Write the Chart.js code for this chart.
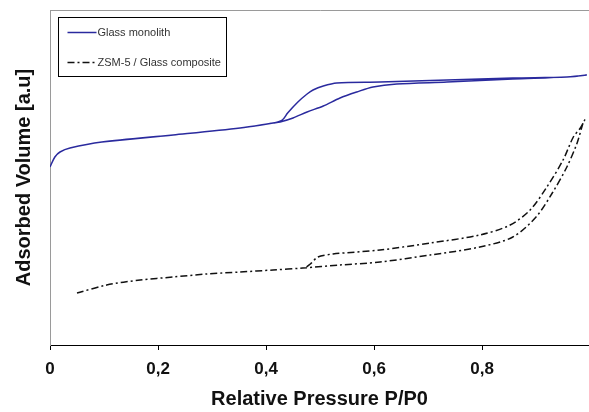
<!DOCTYPE html>
<html><head><meta charset="UTF-8">
<title>Adsorption isotherms</title>
<script src="https://cdn.jsdelivr.net/npm/chart.js"></script>
<style>
body{margin:0;background:#fff;overflow:hidden}
canvas{display:block}
</style>
</head><body>
<canvas id="c" width="589" height="412"></canvas>
<script>
// valores (volume em unidades arbitrarias)
// Glass monolith: adsorcao (ramo de baixo) e depois dessorcao (volta por cima)
const glassP = [0, 0.009, 0.0185, 0.037, 0.096, 0.228, 0.352, 0.413, 0.426, 0.45, 0.476, 0.506, 0.537, 0.568, 0.598, 0.642, 0.735, 0.857, 0.957, 0.994,
                0.957, 0.857, 0.735, 0.611, 0.531, 0.506, 0.487, 0.476, 0.459, 0.44, 0.43, 0.413, 0.352, 0.228, 0.096];
const glassV = [178, 188, 193, 197, 203, 210, 217, 222, 223, 227, 233, 239, 247, 253, 258, 261, 263, 266, 268, 270,
                268, 267, 265, 263, 262, 259, 255, 251, 243, 232, 225, 222, 217, 210, 203];

// ZSM-5 / Glass composite
const zsmP = [0.05, 0.105, 0.167, 0.228, 0.29, 0.352, 0.413, 0.468, 0.537, 0.611, 0.704, 0.796, 0.857, 0.9, 0.93, 0.957, 0.976, 0.987, 0.99,
              0.982, 0.969, 0.95, 0.92, 0.889, 0.852, 0.796, 0.704, 0.611, 0.524, 0.496, 0.482, 0.472];
const zsmV = [52, 60, 65, 68, 71, 73, 75, 77, 80, 83, 90, 98, 108, 128, 152, 178, 202, 222, 225,
              217, 208, 185, 158, 135, 120, 110, 102, 95, 91, 88, 81, 77];

const xTicks = [0, 0.2, 0.4, 0.6, 0.8, 1];

const toPts = (xs, ys) => xs.map((x, i) => ({x, y: ys[i]}));
const FONT = 'Arial, "Liberation Sans", sans-serif';

// moldura cinza da area do grafico (topo e esquerda)
const frame = {
  id: 'frame',
  beforeDatasetsDraw(chart) {
    const {ctx, chartArea: a} = chart;
    ctx.save();
    ctx.strokeStyle = '#9a9a9a';
    ctx.lineWidth = 1;
    ctx.beginPath();
    ctx.moveTo(a.left + 0.5, a.bottom);
    ctx.lineTo(a.left + 0.5, a.top + 0.5);
    ctx.lineTo(a.right + 2, a.top + 0.5);
    ctx.stroke();
    ctx.restore();
  }
};

// legenda com caixa, como na figura
const boxLegend = {
  id: 'boxLegend',
  afterDraw(chart) {
    const {ctx, chartArea: a} = chart;
    const x0 = a.left + 8.5, y0 = a.top + 7.5, w = 168, h = 59;
    ctx.save();
    ctx.fillStyle = '#fff';
    ctx.fillRect(x0, y0, w, h);
    ctx.strokeStyle = '#000';
    ctx.lineWidth = 1;
    ctx.strokeRect(x0, y0, w, h);
    ctx.font = '11px ' + FONT;
    ctx.textBaseline = 'middle';
    chart.data.datasets.forEach((ds, i) => {
      const y = y0 + 15 + i * 30;
      ctx.beginPath();
      ctx.strokeStyle = ds.borderColor;
      ctx.lineWidth = ds.borderWidth;
      ctx.setLineDash(ds.borderDash || []);
      ctx.moveTo(x0 + 9, y);
      ctx.lineTo(x0 + 38, y);
      ctx.stroke();
      ctx.setLineDash([]);
      ctx.fillStyle = '#333';
      ctx.fillText(ds.label, x0 + 39, y);
    });
    ctx.restore();
  }
};

new Chart(document.getElementById('c'), {
  type: 'line',
  data: {
    datasets: [
      { label: 'Glass monolith', data: toPts(glassP, glassV), borderColor: '#2a2a9e', borderWidth: 1.5, pointRadius: 0, tension: 0.3, fill: false },
      { label: 'ZSM-5 / Glass composite', data: toPts(zsmP, zsmV), borderColor: '#111', borderWidth: 1.5, borderDash: [7, 3, 2, 3], pointRadius: 0, tension: 0.3, fill: false }
    ]
  },
  options: {
    responsive: false,
    animation: false,
    layout: { padding: { top: 10, left: 0, right: 0, bottom: 0 } },
    plugins: { legend: { display: false }, tooltip: { enabled: false } },
    scales: {
      x: {
        type: 'linear', min: 0, max: 0.998,
        afterBuildTicks: s => { s.ticks = xTicks.filter(v => v <= s.max).map(v => ({value: v})); },
        afterFit: s => { s.height = 67; },
        grid: { drawOnChartArea: false, tickLength: 5, color: '#000' },
        border: { color: '#000', width: 1 },
        ticks: {
          color: '#111', padding: 9, maxRotation: 0,
          font: { family: FONT, size: 17, weight: 'bold' },
          callback: v => v === 0 ? '0' : String(v).replace('.', ',')
        },
        title: { display: true, text: 'Relative Pressure P/P0', color: '#111',
                 font: { family: FONT, size: 20, weight: 'bold' }, padding: { top: 0, bottom: 1 } }
      },
      y: {
        min: 0, max: 335,
        afterFit: s => { s.width = 50; },
        grid: { display: false },
        border: { color: '#9a9a9a', width: 1 },
        ticks: { display: false },
        title: { display: true, text: 'Adsorbed Volume [a.u]', color: '#111',
                 font: { family: FONT, size: 20, weight: 'bold' }, padding: { top: 12, bottom: 0 } }
      }
    }
  },
  plugins: [frame, boxLegend]
});
</script>
</body></html>
